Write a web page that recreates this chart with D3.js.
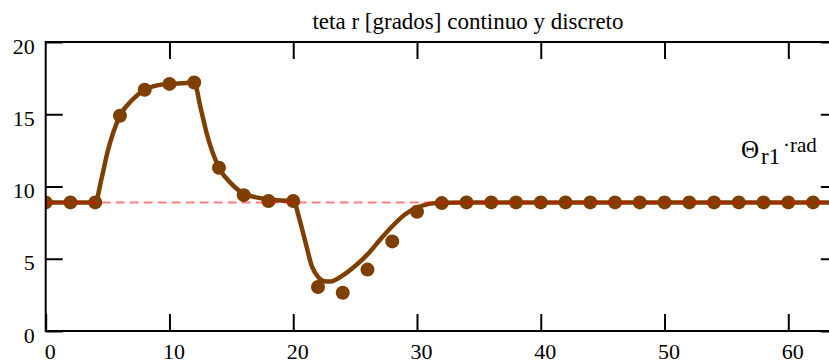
<!DOCTYPE html>
<html>
<head>
<meta charset="utf-8">
<script src="https://cdn.jsdelivr.net/npm/d3@7"></script>
<style>
  html, body { margin: 0; padding: 0; background: #fff; }
  svg { display: block; }
</style>
</head>
<body>
<svg id="chart" width="829" height="363"></svg>
<script>
// Discrete samples (every 2 units)
const discT = [0, 2, 4, 6, 8, 10, 12, 14, 16, 18, 20, 22, 24, 26, 28, 30, 32,
               34, 36, 38, 40, 42, 44, 46, 48, 50, 52, 54, 56, 58, 60, 62];
const discV = [8.9, 8.9, 8.9, 14.9, 16.7, 17.1, 17.2, 11.3, 9.4, 9.0, 9.0, 3.05, 2.65, 4.25, 6.2, 8.25, 8.85,
               8.9, 8.9, 8.9, 8.9, 8.9, 8.9, 8.9, 8.9, 8.9, 8.9, 8.9, 8.9, 8.9, 8.9, 8.9];

// Continuous response
const contT = [0, 4, 4.5, 5, 6, 7, 8, 9, 10, 11, 12, 12.5, 13, 14, 15, 16, 17, 18, 19, 20,
               20.5, 21, 21.5, 22, 22.5, 23, 24, 25, 26, 27, 28, 29, 30, 31, 32, 34, 64];
const contV = [8.9, 8.9, 10.5, 12.4, 14.9, 16.0, 16.7, 17.0, 17.1, 17.15, 17.2, 15.5, 13.7, 11.3, 10.2, 9.5, 9.25, 9.12, 9.03, 9.0,
               7.75, 6.1, 4.5, 3.75, 3.45, 3.42, 3.85, 4.5, 5.3, 6.3, 7.25, 8.05, 8.55, 8.8, 8.88, 8.9, 8.9];

// Reference level
const refLevel = 8.9;

const xTicks = [0, 10, 20, 30, 40, 50, 60];
const yTicks = [0, 5, 10, 15, 20];

const title = 'teta r [grados] continuo y discreto';

// Layout
const plotLeft = 45.7, plotRight = 837.8, plotTop = 42, plotBottom = 331;
const brown = '#7f3f00';
const serif = 'Liberation Serif';

const svg = d3.select('#chart');

const x = d3.scaleLinear().domain([0, 64]).range([plotLeft, plotRight]);
const y = d3.scaleLinear().domain([0, 20]).range([plotBottom, plotTop]);

// Clip to plot area
svg.append('defs').append('clipPath')
    .attr('id', 'plotClip')
    .append('rect')
    .attr('x', plotLeft).attr('y', plotTop)
    .attr('width', plotRight - plotLeft).attr('height', plotBottom - plotTop);

const plot = svg.append('g').attr('clip-path', 'url(#plotClip)');

// Continuous line
const contData = contT.map((t, i) => [t, contV[i]]);
const line = d3.line()
    .x(d => x(d[0]))
    .y(d => y(d[1]))
    .curve(d3.curveMonotoneX);

plot.append('path')
    .datum(contData)
    .attr('d', line)
    .attr('fill', 'none')
    .attr('stroke', brown)
    .attr('stroke-width', 4.5)
    .attr('stroke-linejoin', 'round');

// Discrete points
plot.selectAll('.dot')
    .data(discT.map((t, i) => [t, discV[i]]))
    .enter()
    .append('circle')
    .attr('class', 'dot')
    .attr('cx', d => x(d[0]))
    .attr('cy', d => y(d[1]))
    .attr('r', 7)
    .attr('fill', brown);

// Dashed reference line
plot.append('line')
    .attr('x1', plotLeft).attr('x2', plotRight)
    .attr('y1', y(refLevel)).attr('y2', y(refLevel))
    .attr('stroke', 'red')
    .attr('stroke-opacity', 0.5)
    .attr('stroke-width', 2)
    .attr('stroke-dasharray', '9,5');

// Axes (ticks pointing inwards)
const fmt = d3.format('d');

const gBottom = svg.append('g')
    .attr('transform', `translate(0,${plotBottom})`)
    .call(d3.axisBottom(x).tickValues(xTicks).tickFormat(fmt).tickSize(-17).tickPadding(12));

const gTop = svg.append('g')
    .attr('transform', `translate(0,${plotTop})`)
    .call(d3.axisTop(x).tickValues(xTicks.slice(1)).tickFormat('').tickSize(-17));

const gLeft = svg.append('g')
    .attr('transform', `translate(${plotLeft},0)`)
    .call(d3.axisLeft(y).tickValues(yTicks).tickFormat(fmt).tickSize(-17).tickPadding(11));

const gRight = svg.append('g')
    .attr('transform', `translate(${plotRight},0)`)
    .call(d3.axisRight(y).tickValues(yTicks).tickFormat('').tickSize(-17));

[gBottom, gTop, gLeft, gRight].forEach(g => {
    g.attr('font-family', serif).attr('font-size', 22);
    g.select('.domain').remove();
    g.selectAll('.tick line').attr('stroke', '#000').attr('stroke-width', 2);
    g.selectAll('.tick text')
        .attr('fill', '#000')
        .style('font-family', serif)
        .style('font-size', '22px');
});
gBottom.selectAll('.tick text').attr('dx', 4);
gLeft.selectAll('.tick text').attr('dy', '0.5em');

// Frame
svg.append('rect')
    .attr('x', plotLeft).attr('y', plotTop)
    .attr('width', plotRight - plotLeft).attr('height', plotBottom - plotTop)
    .attr('fill', 'none')
    .attr('stroke', '#000')
    .attr('stroke-width', 2);

// Title
svg.append('text')
    .attr('x', 468)
    .attr('y', 29)
    .attr('text-anchor', 'middle')
    .attr('font-family', serif)
    .attr('font-size', 23)
    .text(title);

// Curve label: Θ_r1 · rad
const label = svg.append('text')
    .attr('font-family', serif)
    .attr('fill', '#000');
label.append('tspan').attr('x', 741).attr('y', 158).attr('font-size', 25).text('Θ');
label.append('tspan').attr('x', 761).attr('y', 164).attr('font-size', 23).text('r1');
label.append('tspan').attr('x', 783).attr('y', 152).attr('font-size', 21).text('·rad');
</script>
</body>
</html>
